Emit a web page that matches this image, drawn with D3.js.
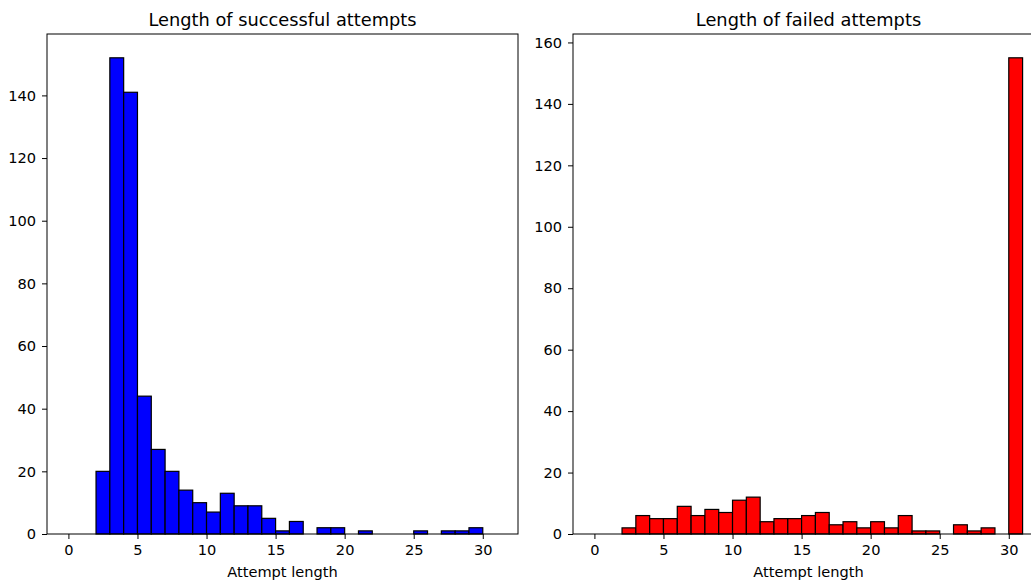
<!DOCTYPE html>
<html>
<head>
<meta charset="utf-8">
<script src="https://cdn.jsdelivr.net/npm/d3@7"></script>
<style>
  body { margin: 0; background: #fff; }
  svg text { font-family: "DejaVu Sans", sans-serif; fill: #000; }
</style>
</head>
<body>
<svg id="chart" width="1031" height="580"></svg>
<script>
(function () {
    'use strict';

    // histogram bins are [i, i+1) for i = 0..30
    var binStarts = d3.range(0, 31);
    var successCounts = [0, 0, 20, 152, 141, 44, 27, 20, 14, 10, 7, 13, 9, 9, 5, 1, 4, 0, 2, 2, 0, 1, 0, 0, 0, 1, 0, 1, 1, 2, 0];
    var failedCounts = [0, 0, 2, 6, 5, 5, 9, 6, 8, 7, 11, 12, 4, 5, 5, 6, 7, 3, 4, 2, 4, 2, 6, 1, 1, 0, 3, 1, 2, 0, 155];
    var xTicks = [0, 5, 10, 15, 20, 25, 30];
    var titles = ["Length of successful attempts", "Length of failed attempts"];
    var colours = ["#0000ff", "#ff0000"];
    var xLabel = "Attempt length";

    var svg = d3.select("#chart");
    var top = 34, bottom = 534, panelWidth = 471;
    var lefts = [47, 573];
    var allCounts = [successCounts, failedCounts];

    allCounts.forEach(function (counts, k) {
        var left = lefts[k];
        var ymax = d3.max(counts) * 1.05;
        var x = d3.scaleLinear().domain([-1.55, 32.55]).range([left, left + panelWidth]);
        var y = d3.scaleLinear().domain([0, ymax]).range([bottom, top]);

        var g = svg.append("g");

        g.selectAll("rect")
            .data(binStarts)
            .enter()
            .append("rect")
            .attr("x", function (d) { return x(d); })
            .attr("y", function (d, i) { return y(counts[i]); })
            .attr("width", function (d) { return x(d + 1) - x(d); })
            .attr("height", function (d, i) { return y(0) - y(counts[i]); })
            .attr("fill", colours[k])
            .attr("stroke", "black")
            .attr("stroke-width", 1.2);

        var xAxis = d3.axisBottom(x).tickValues(xTicks).tickSize(5).tickPadding(6).tickFormat(d3.format("d"));
        var gx = g.append("g").attr("transform", "translate(0," + bottom + ")").call(xAxis);
        gx.select(".domain").remove();

        var yAxis = d3.axisLeft(y).tickValues(d3.range(0, ymax, 20)).tickSize(5).tickPadding(6);
        var gy = g.append("g").attr("transform", "translate(" + left + ",0)").call(yAxis);
        gy.select(".domain").remove();

        [gx, gy].forEach(function (a) {
            a.attr("font-size", null).attr("font-family", null);
            a.selectAll("text").style("font-size", "14.6px");
            a.selectAll("line").attr("stroke", "black").attr("stroke-width", 1);
        });

        g.append("rect")
            .attr("x", left)
            .attr("y", top)
            .attr("width", panelWidth)
            .attr("height", bottom - top)
            .attr("fill", "none")
            .attr("stroke", "black")
            .attr("stroke-width", 1);

        g.append("text")
            .attr("x", left + panelWidth / 2)
            .attr("y", 26)
            .attr("text-anchor", "middle")
            .style("font-size", "17.8px")
            .text(titles[k]);

        g.append("text")
            .attr("x", x(15.5))
            .attr("y", 577)
            .attr("text-anchor", "middle")
            .style("font-size", "14.6px")
            .text(xLabel);
    });
})();
</script>
</body>
</html>
